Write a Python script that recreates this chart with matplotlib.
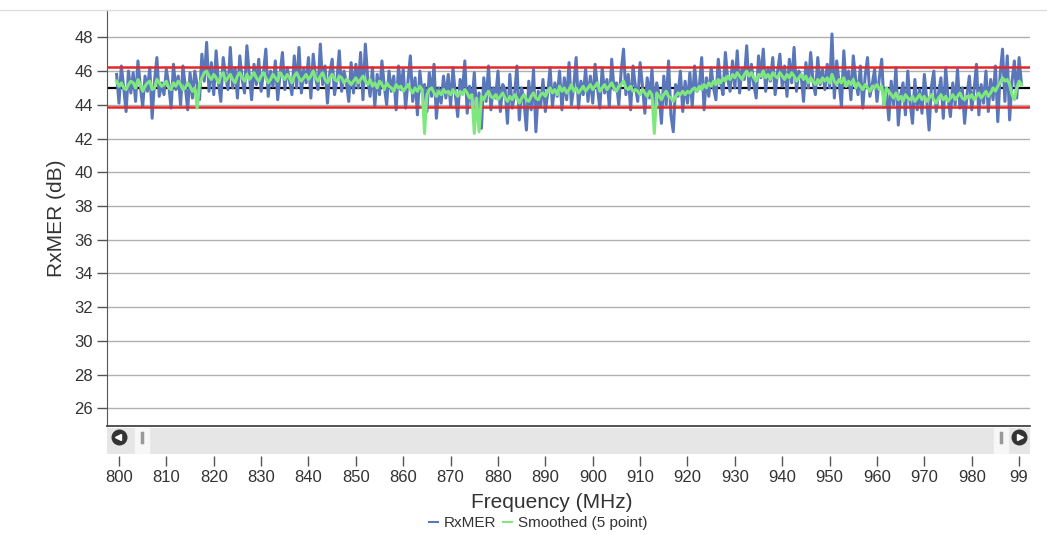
import numpy as np
import matplotlib
matplotlib.use("Agg")
import matplotlib.pyplot as plt

plt.rcParams['font.family'] = ['Liberation Sans', 'DejaVu Sans']

# RxMER per 0.5 MHz step starting at 799.5 MHz
freq_start = 799.5
freq_step = 0.5

rxmer = [
    45.8, 44.1, 46.3, 45.0, 43.6, 46.0, 44.7, 45.9, 44.2, 46.6, 45.1, 43.9, 45.7, 44.8, 46.2, 43.2, 45.4, 46.8, 44.5, 45.3,
    44.6, 46.1, 45.2, 43.8, 46.4, 44.9, 45.7, 44.0, 46.3, 45.1, 43.7, 45.9, 44.4, 46.0, 45.2, 44.3, 47.0, 45.4, 47.7, 44.8,
    46.5, 44.6, 47.2, 45.3, 44.2, 46.8, 45.7, 44.9, 47.4, 45.0, 46.2, 44.4, 46.9, 45.5, 44.7, 47.5, 45.8, 44.3, 46.4, 45.2,
    46.7, 44.8, 45.9, 47.3, 44.5, 46.0, 45.1, 46.6, 44.3, 45.8, 47.1, 44.9, 46.2, 45.4, 44.6, 46.9, 45.0, 47.4, 44.7, 46.1,
    45.3, 46.8, 44.4, 47.0, 45.6, 44.9, 47.6, 45.2, 46.3, 44.1, 45.9, 46.7, 44.6, 45.5, 47.2, 44.8, 46.0, 45.3, 44.2, 46.5,
    44.7, 46.4, 45.0, 47.1, 44.3, 47.6, 45.6, 44.5, 46.2, 43.9, 45.8, 44.6, 46.6, 45.1, 44.0, 46.0, 44.8, 45.7, 43.7, 46.3,
    44.9, 46.1, 43.8, 45.4, 46.9, 44.2, 45.6, 43.4, 46.0, 44.7, 45.2, 43.6, 45.9, 44.5, 46.4, 43.2, 45.0, 44.1, 45.7, 44.4,
    45.8, 43.9, 46.2, 44.6, 43.3, 45.5, 44.8, 46.6, 43.5, 45.1, 44.0, 45.9, 43.4, 44.7, 42.6, 45.6, 44.2, 46.3, 43.7, 45.0,
    44.4, 46.0, 43.6, 45.2, 44.9, 42.9, 45.8, 43.8, 44.6, 46.3, 43.1, 45.0, 44.2, 42.5, 45.4, 43.7, 46.1, 42.4, 44.8, 43.9,
    45.5, 43.6, 44.7, 46.2, 43.9, 45.3, 44.5, 46.0, 43.7, 45.6, 44.3, 46.5, 44.0, 45.1, 46.8, 43.8, 45.4, 44.6, 46.1, 44.2,
    45.7, 44.1, 46.4, 45.0, 43.8, 46.2, 44.7, 45.5, 43.9, 46.7, 44.9, 45.3, 44.0, 46.0, 47.3, 44.6, 45.8, 43.7, 46.3, 45.1,
    44.2, 46.5, 45.1, 43.5, 45.6, 44.4, 46.1, 43.8, 45.3, 44.6, 42.9, 45.7, 44.0, 46.6, 43.4, 42.4, 45.2, 44.5, 46.0, 43.6,
    45.4, 44.1, 45.9, 43.9, 46.3, 44.8, 45.1, 46.8, 43.7, 45.6, 44.5, 46.2, 45.0, 44.3, 46.7, 45.3, 44.6, 47.1, 45.5, 44.8,
    46.6, 45.0, 47.2, 44.7, 46.1, 45.5, 47.5, 44.9, 46.4, 45.2, 44.4, 46.9, 45.6, 47.3, 44.8, 46.2, 45.4, 46.8, 44.6, 45.9,
    47.0, 45.1, 46.3, 44.5, 46.7, 45.3, 47.4, 44.8, 46.0, 45.7, 44.2, 46.5, 45.0, 47.1, 45.4, 44.6, 46.8, 45.2, 46.1, 44.9,
    46.4, 45.0, 48.2, 44.4, 46.6, 45.3, 43.9, 47.2, 45.1, 46.0, 44.3, 46.9, 45.5, 44.6, 46.3, 43.8, 45.7, 46.8, 44.5, 45.2,
    46.1, 44.2, 45.6, 46.7, 43.9, 44.8, 43.1, 45.4, 44.0, 46.2, 42.8, 44.6, 45.3, 43.4, 46.0, 44.1, 42.9, 45.5, 43.7, 44.9,
    43.5, 45.8, 44.3, 42.5, 45.1, 46.0, 43.6, 44.7, 45.6, 43.2, 46.2, 44.4, 43.3, 45.3, 44.0, 46.1, 43.8, 45.0, 42.9, 44.6,
    45.7, 43.7, 44.9, 46.4, 43.4, 45.2, 44.1, 46.0, 43.6, 45.5, 44.3, 46.3, 43.0, 45.8, 47.3, 44.2, 46.9, 43.1, 45.4, 46.6,
    44.4, 46.8, 45.2,
]

smoothed = [
    45.4, 45.1, 45.3, 45.0, 44.9, 45.2, 45.4, 45.3, 45.0, 45.5, 45.2, 44.8, 45.1, 45.3, 45.4, 44.9, 45.0, 45.5, 45.3, 45.1,
    45.2, 45.4, 45.0, 44.9, 45.3, 45.1, 45.4, 45.2, 44.9, 45.0, 45.3, 45.1, 44.8, 45.0, 43.8, 45.2, 45.6, 45.9, 46.0, 45.7,
    45.5, 45.8, 45.6, 45.3, 45.7, 45.9, 45.4, 45.6, 45.8, 45.5, 45.3, 45.7, 45.9, 45.6, 45.4, 45.8, 45.5, 45.7, 45.9, 45.6,
    45.4, 45.7, 45.9, 45.6, 45.3, 45.5, 45.8, 45.6, 45.4, 45.9, 45.7, 45.5, 45.8, 45.6, 45.3, 45.7, 45.9, 45.6, 45.4, 45.6,
    45.8, 45.5, 45.7, 46.0, 45.6, 45.4, 45.7, 45.9, 45.5, 45.3, 45.6, 45.8, 45.5, 45.4, 45.7, 45.6, 45.3, 45.5, 45.4, 45.2,
    45.4, 45.6, 45.3, 45.5, 45.7, 45.4, 45.2, 45.5, 45.1, 45.3, 45.0, 45.4, 45.2, 44.9, 45.3, 45.1, 45.0, 44.8, 45.2, 45.0,
    45.1, 44.8, 45.0, 45.2, 44.9, 44.7, 45.0, 44.8, 45.1, 44.9, 42.3, 44.6, 44.9, 45.0, 44.7, 44.5, 44.8, 44.6, 44.9, 44.7,
    44.8, 44.6, 44.9, 44.7, 44.5, 44.8, 44.6, 44.9, 44.7, 44.4, 44.6, 42.3, 44.4, 42.4, 44.5, 44.3, 44.6, 44.8, 44.5, 44.4,
    44.6, 44.3, 44.5, 44.7, 44.4, 44.2, 44.5, 44.3, 44.6, 44.4, 44.1, 44.4, 44.6, 44.3, 44.2, 44.5, 44.7, 44.4, 44.3, 44.6,
    44.7, 44.5, 44.8, 45.0, 44.7, 44.9, 44.6, 45.1, 44.8, 45.0, 44.7, 44.9, 45.2, 44.8, 45.0, 44.7, 44.9, 45.1, 44.8, 45.0,
    45.2, 44.9, 45.1, 45.3, 44.8, 45.0, 45.2, 44.9, 45.1, 45.3, 45.0, 44.8, 45.1, 45.2, 45.4, 45.0, 44.9, 45.1, 44.8, 44.9,
    44.8, 44.6, 44.9, 44.7, 44.5, 44.8, 44.6, 42.3, 44.7, 44.5, 44.3, 44.6, 44.8, 44.5, 44.4, 44.2, 44.5, 44.7, 44.6, 44.8,
    44.6, 44.8, 44.7, 44.9, 45.0, 44.8, 45.1, 44.9, 45.2, 45.0, 45.3, 45.1, 45.4, 45.2, 45.5, 45.3, 45.6, 45.4, 45.7, 45.5,
    45.8, 45.6, 45.9, 45.7, 45.5, 45.8, 46.0, 45.7, 45.9, 45.6, 45.4, 45.8, 45.7, 46.0, 45.6, 45.8, 45.5, 45.9, 45.7, 45.6,
    45.9, 45.7, 45.5, 45.8, 45.6, 45.9, 45.7, 45.4, 45.6, 45.8, 45.5, 45.7, 45.3, 45.6, 45.4, 45.2, 45.5, 45.3, 45.6, 45.4,
    45.6, 45.3, 45.8, 45.4, 45.2, 45.5, 45.3, 45.6, 45.1, 45.4, 45.2, 45.5, 45.0, 45.3, 45.1, 44.9, 45.2, 45.0, 44.8, 45.1,
    45.0, 45.2, 44.9, 45.1, 44.0, 45.0, 44.8, 44.6, 44.4, 44.7, 44.3, 44.5, 44.2, 44.6, 44.4, 44.3, 44.5, 44.2, 44.4, 44.6,
    44.3, 44.5, 44.2, 44.4, 44.6, 44.3, 44.1, 44.4, 44.6, 44.3, 44.5, 44.2, 44.4, 44.6, 44.3, 44.5, 44.7, 44.4, 44.3, 44.5,
    44.4, 44.6, 44.3, 44.5, 44.7, 44.4, 44.6, 44.8, 44.5, 44.7, 45.0, 44.8, 45.1, 45.3, 45.6, 45.4, 45.5, 45.2, 44.6, 44.3,
    45.0, 45.4, 45.2,
]

# threshold lines
upper_limit = 46.25
lower_limit = 43.85
mean_level = 45.0

x_ticks = list(range(800, 1000, 10))
x_ticklabels = [str(t) for t in x_ticks[:-1]] + ["99"]
y_ticks = list(range(26, 50, 2))

freqs = freq_start + freq_step * np.arange(len(rxmer))

W, H = 1047, 535
fig = plt.figure(figsize=(W / 100, H / 100), dpi=100)

def px_box(x0, y0, x1, y1):
    # pixel box (top-left origin) -> figure fraction rect
    return [x0 / W, 1 - y1 / H, (x1 - x0) / W, (y1 - y0) / H]

xlim = (797.47, 992.3)
text_col = '#333333'
blue = '#5a78b9'
green = '#7ee87e'

ax = fig.add_axes(px_box(107, 10, 1030, 425.7))
ax.set_xlim(*xlim)
ax.set_ylim(24.97, 49.62)

ax.set_yticks(y_ticks)
for y in y_ticks:
    ax.axhline(y, color='#b0b0b0', lw=1.0, zorder=1)
ax.axhline(mean_level, color='black', lw=1.6, zorder=2)
ax.plot(freqs, rxmer, color=blue, lw=2.2, zorder=3)
ax.axhline(upper_limit, color='#e4282a', lw=1.8, zorder=4)
ax.axhline(lower_limit, color='#e4282a', lw=1.8, zorder=4)
ax.plot(freqs, smoothed, color=green, lw=2.2, zorder=5)

ax.set_xticks([])
ax.tick_params(axis='y', length=7, width=1, color='#555555', labelsize=12,
               labelcolor=text_col, pad=3)
for s in ['top', 'right']:
    ax.spines[s].set_visible(False)
ax.spines['left'].set_color('#555555')
ax.spines['bottom'].set_color('#444444')
ax.spines['bottom'].set_linewidth(1.3)
ax.set_ylabel('RxMER (dB)', fontsize=15, color=text_col, labelpad=6)

# top frame line
fig.add_artist(plt.Line2D([0, 1], [1 - 10 / H, 1 - 10 / H], color='#dddddd', lw=1))

# scrollbar
sc = fig.add_axes(px_box(107, 428, 1030, 454))
sc.set_xlim(*xlim)
sc.set_ylim(0, 1)
sc.set_facecolor('#e6e6e6')
for s in sc.spines.values():
    s.set_visible(False)
sc.set_xticks([])
sc.set_yticks([])
for xh in [804.9, 986.2]:
    sc.axvspan(xh - 1.5, xh + 1.5, ymin=0.0, ymax=1.0, color='#f7f7f7', zorder=2)
    sc.plot([xh, xh], [0.45, 0.8], color='#999999', lw=2.5, zorder=3)
sc.plot([800.0, 990.0], [0.65, 0.65], 'o', ms=10.5, color='#333333', zorder=4)
sc.plot([799.8], [0.65], marker='<', ms=4, color='white', zorder=5)
sc.plot([990.2], [0.65], marker='>', ms=4, color='white', zorder=5)

# x ticks drawn below the scrollbar
tx = fig.add_axes(px_box(107, 465, 1030, 465.5))
tx.set_xlim(*xlim)
tx.set_yticks([])
for s in ['top', 'left', 'right', 'bottom']:
    tx.spines[s].set_visible(False)
tx.set_xticks(x_ticks)
tx.set_xticklabels(x_ticklabels)
tx.tick_params(axis='x', direction='in', length=7, width=1, color='#555555',
               labelsize=12, labelcolor=text_col, pad=3)
tx.patch.set_visible(False)

fig.text(552 / W, 1 - 503 / H, 'Frequency (MHz)', ha='center', va='center',
         fontsize=15, color=text_col)

h1, = ax.plot([], [], color=blue, lw=1.5)
h2, = ax.plot([], [], color=green, lw=1.5)
fig.legend([h1, h2], ['RxMER', 'Smoothed (5 point)'], loc='center',
           bbox_to_anchor=(538 / W, 1 - 523 / H), ncol=2, frameon=False,
           fontsize=11, handlelength=0.6, handletextpad=0.4, columnspacing=0.4,
           labelcolor=text_col)

fig.savefig('out.png', dpi=100)
